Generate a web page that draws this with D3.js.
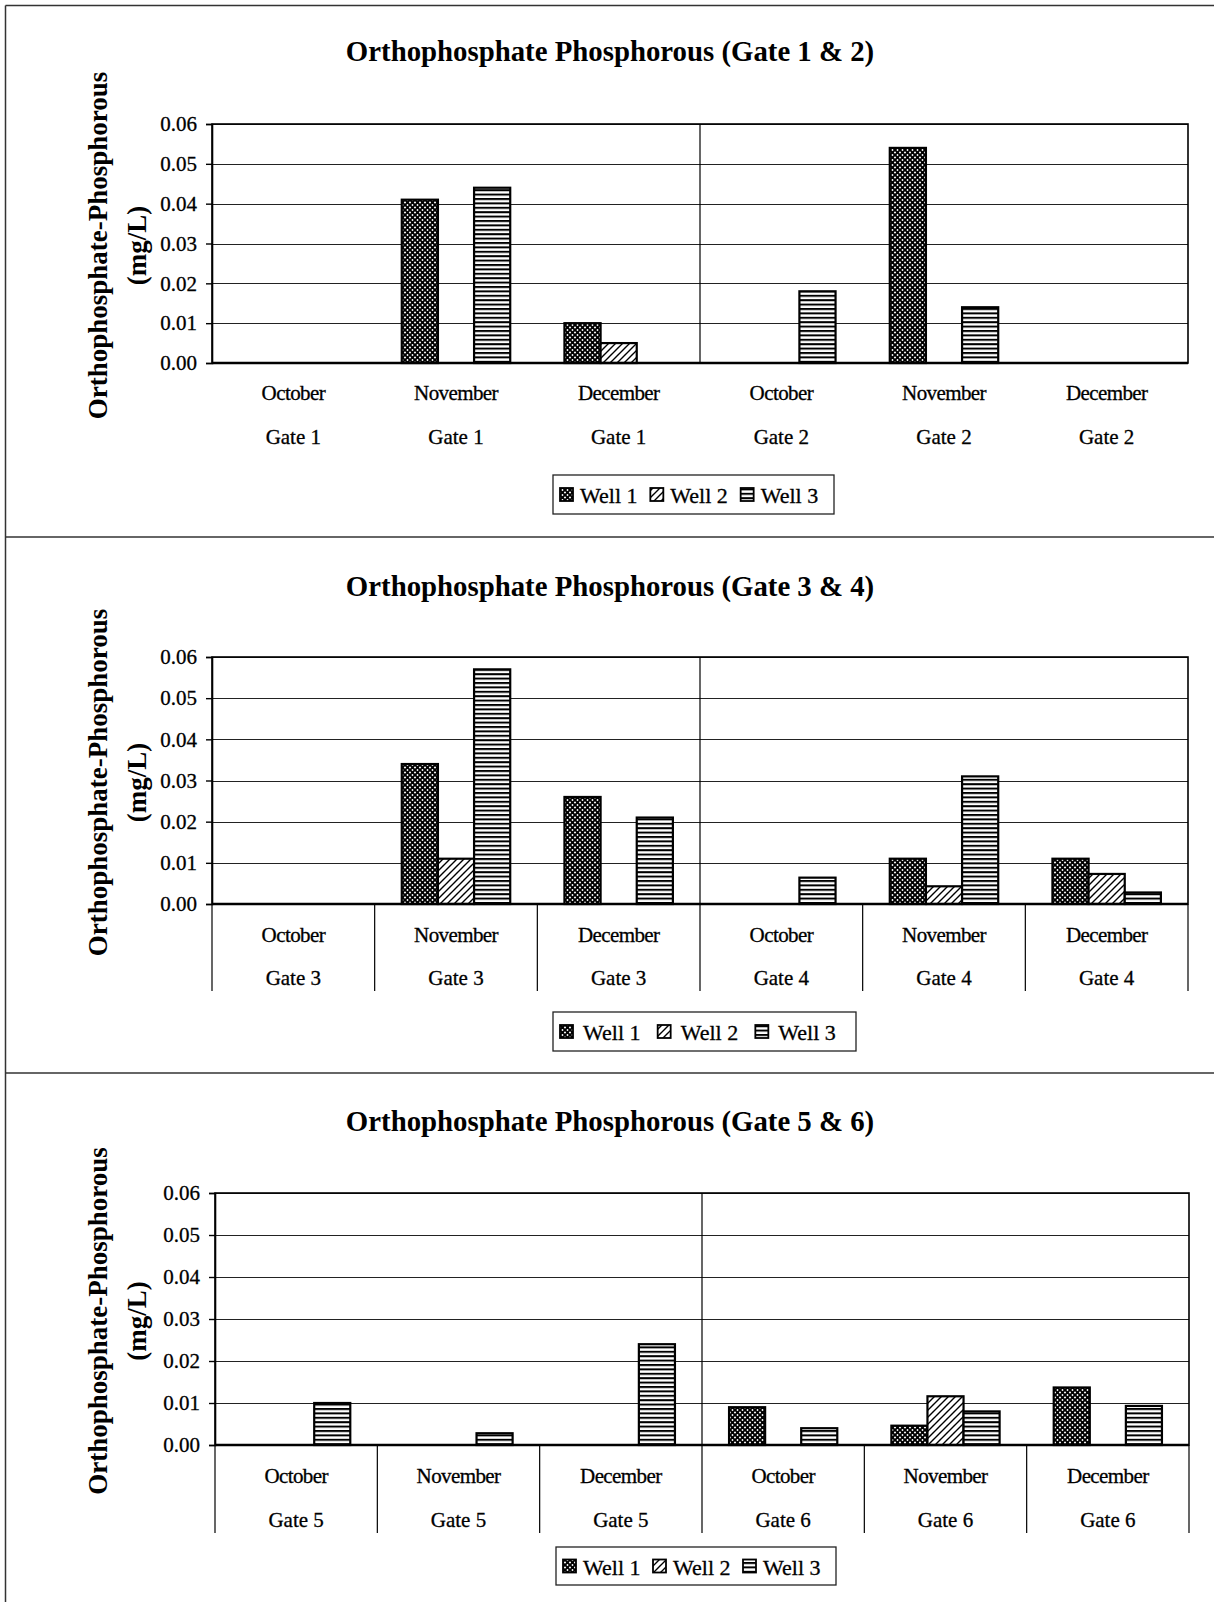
<!DOCTYPE html>
<html>
<head>
<meta charset="utf-8">
<script src="https://cdn.jsdelivr.net/npm/d3@7"></script>
<style>
  body { margin: 0; background: #fff; }
  svg { display: block; }
  text { font-family: "Liberation Serif", "Times New Roman", serif; fill: #000; }
  .reg { stroke: #000; stroke-width: 0.3; }
</style>
</head>
<body>
<svg id="chart" width="1214" height="1602"></svg>
<script>
// ---- data ----
const months = ["October", "November", "December"];
const wells = ["Well 1", "Well 2", "Well 3"];
const yTicks = [0, 0.01, 0.02, 0.03, 0.04, 0.05, 0.06];

const titles = [
  "Orthophosphate Phosphorous (Gate 1 & 2)",
  "Orthophosphate Phosphorous (Gate 3 & 4)",
  "Orthophosphate Phosphorous (Gate 5 & 6)"
];
const gates12 = ["Gate 1", "Gate 1", "Gate 1", "Gate 2", "Gate 2", "Gate 2"];
const gates34 = ["Gate 3", "Gate 3", "Gate 3", "Gate 4", "Gate 4", "Gate 4"];
const gates56 = ["Gate 5", "Gate 5", "Gate 5", "Gate 6", "Gate 6", "Gate 6"];

// mg/L, one value per month/gate column
const g12Well1 = [0, 0.041, 0.010, 0, 0.054, 0];
const g12Well2 = [0, 0, 0.005, 0, 0, 0];
const g12Well3 = [0, 0.044, 0, 0.018, 0.014, 0];

const g34Well1 = [0, 0.034, 0.026, 0, 0.011, 0.011];
const g34Well2 = [0, 0.011, 0, 0, 0.0043, 0.0073];
const g34Well3 = [0, 0.057, 0.021, 0.0064, 0.031, 0.0028];

const g56Well1 = [0, 0, 0, 0.009, 0.0046, 0.0137];
const g56Well2 = [0, 0, 0, 0, 0.0116, 0];
const g56Well3 = [0.010, 0.0028, 0.024, 0.004, 0.008, 0.0093];

const yLabel1 = "Orthophosphate-Phosphorous";
const yLabel2 = "(mg/L)";

// ---- layout of the three stacked charts ----
const panels = [
  { title: titles[0], gates: gates12, series: [g12Well1, g12Well2, g12Well3],
    left: 212, right: 1188, top: 124, bottom: 363, titleY: 51,
    monthY: 393, gateY: 437, tickEnd: null,
    legend: { x: 553, y: 475, w: 281, h: 39, gap: 20 } },
  { title: titles[1], gates: gates34, series: [g34Well1, g34Well2, g34Well3],
    left: 212, right: 1188, top: 657, bottom: 904, titleY: 586,
    monthY: 935, gateY: 978, tickEnd: 991,
    legend: { x: 553, y: 1012, w: 303, h: 39, gap: 23 } },
  { title: titles[2], gates: gates56, series: [g56Well1, g56Well2, g56Well3],
    left: 215, right: 1189, top: 1193, bottom: 1445, titleY: 1121,
    monthY: 1476, gateY: 1520, tickEnd: 1533,
    legend: { x: 556, y: 1547, w: 280, h: 38, gap: 20 } }
];

const svg = d3.select("#chart");
svg.append("rect").attr("width", 1214).attr("height", 1602).attr("fill", "#fff");

// ---- fill patterns for the three wells ----
const defs = svg.append("defs");
const p1 = defs.append("pattern").attr("id", "pat-w1")
  .attr("patternUnits", "userSpaceOnUse").attr("width", 5).attr("height", 5);
p1.append("rect").attr("width", 5).attr("height", 5).attr("fill", "#fff");
p1.append("path").attr("d", "M-1,-1L6,6M-1,6L6,-1")
  .attr("stroke", "#000").attr("stroke-width", 1.9);

const p2 = defs.append("pattern").attr("id", "pat-w2")
  .attr("patternUnits", "userSpaceOnUse").attr("width", 7).attr("height", 7);
p2.append("rect").attr("width", 7).attr("height", 7).attr("fill", "#fff");
p2.append("path").attr("d", "M-1,8L8,-1M-1,1L1,-1M6,8L8,6")
  .attr("stroke", "#000").attr("stroke-width", 1.4);

const p3 = defs.append("pattern").attr("id", "pat-w3")
  .attr("patternUnits", "userSpaceOnUse").attr("width", 4).attr("height", 4.4);
p3.append("rect").attr("width", 4).attr("height", 4.4).attr("fill", "#fff");
p3.append("rect").attr("y", 0).attr("width", 4).attr("height", 2).attr("fill", "#000");

const fills = ["url(#pat-w1)", "url(#pat-w2)", "url(#pat-w3)"];

// ---- page frame and separators ----
const frame = svg.append("g").attr("stroke", "#333").attr("stroke-width", 1.5).attr("fill", "none");
frame.append("line").attr("x1", 5.5).attr("x2", 5.5).attr("y1", 5.5).attr("y2", 1602);
frame.append("line").attr("x1", 5.5).attr("x2", 1214).attr("y1", 5.5).attr("y2", 5.5);
frame.append("line").attr("x1", 5.5).attr("x2", 1214).attr("y1", 537).attr("y2", 537);
frame.append("line").attr("x1", 5.5).attr("x2", 1214).attr("y1", 1073).attr("y2", 1073);

panels.forEach(p => {
  const g = svg.append("g");
  const cols = d3.range(6);

  const x = d3.scaleBand().domain(cols).range([p.left, p.right]).paddingInner(0).paddingOuter(0);
  const bw = x.bandwidth() / 4.5;            // 150% gap between groups
  const xw = d3.scaleBand().domain(wells).range([0, 3 * bw]);
  const y = d3.scaleLinear().domain([0, 0.06]).range([p.bottom, p.top]);

  // title
  g.append("text").attr("x", 610).attr("y", p.titleY)
    .attr("text-anchor", "middle").attr("dominant-baseline", "central")
    .attr("font-size", 28.8).attr("font-weight", "bold").text(p.title);

  // y axis title (two lines, rotated)
  const cy = (p.top + p.bottom) / 2 + 2;
  g.append("text").attr("transform", `translate(98,${cy}) rotate(-90)`)
    .attr("text-anchor", "middle").attr("dominant-baseline", "central")
    .attr("font-size", 27).attr("font-weight", "bold").text(yLabel1);
  g.append("text").attr("transform", `translate(137,${cy}) rotate(-90)`)
    .attr("text-anchor", "middle").attr("dominant-baseline", "central")
    .attr("font-size", 27).attr("font-weight", "bold").text(yLabel2);

  // horizontal gridlines
  g.append("g").selectAll("line").data(yTicks).join("line")
    .attr("x1", p.left).attr("x2", p.right)
    .attr("y1", d => Math.round(y(d)) + 0.5).attr("y2", d => Math.round(y(d)) + 0.5)
    .attr("stroke", "#222").attr("stroke-width", 1.2);

  // y axis with outward ticks
  const yAxis = g.append("g").attr("transform", `translate(${p.left},0)`)
    .call(d3.axisLeft(y).tickValues(yTicks).tickFormat(d3.format(".2f")).tickSize(6).tickPadding(9));
  yAxis.select(".domain").attr("stroke", "#000").attr("stroke-width", 1.6);
  yAxis.selectAll(".tick line").attr("stroke", "#000").attr("stroke-width", 1.4);
  yAxis.selectAll(".tick text").attr("class", "reg").attr("font-size", 21)
    .attr("font-family", "Liberation Serif, serif").attr("fill", "#000");

  // divider between the two gates
  const mid = x(3);
  g.append("line").attr("x1", mid).attr("x2", mid).attr("y1", p.top).attr("y2", p.bottom)
    .attr("stroke", "#000").attr("stroke-width", 1.2);

  // bars
  wells.forEach((w, wi) => {
    const rows = cols.map(c => ({ c, v: p.series[wi][c] })).filter(d => d.v > 0);
    g.append("g").selectAll("rect").data(rows).join("rect")
      .attr("x", d => x(d.c) + (x.bandwidth() - 3 * bw) / 2 + xw(w))
      .attr("width", xw.bandwidth())
      .attr("y", d => y(d.v))
      .attr("height", d => y(0) - y(d.v))
      .attr("fill", fills[wi])
      .attr("stroke", "#000").attr("stroke-width", 2.2);
  });

  // plot border and baseline
  g.append("rect").attr("x", p.left).attr("y", p.top)
    .attr("width", p.right - p.left).attr("height", p.bottom - p.top)
    .attr("fill", "none").attr("stroke", "#000").attr("stroke-width", 1.6);
  g.append("line").attr("x1", p.left).attr("x2", p.right).attr("y1", y(0)).attr("y2", y(0))
    .attr("stroke", "#000").attr("stroke-width", 2.4);

  // category tick lines below the axis
  if (p.tickEnd) {
    g.append("g").selectAll("line").data(d3.range(7)).join("line")
      .attr("x1", i => i < 6 ? x(i) : p.right).attr("x2", i => i < 6 ? x(i) : p.right)
      .attr("y1", p.bottom).attr("y2", p.tickEnd)
      .attr("stroke", "#000").attr("stroke-width", 1.2);
  }

  // category labels
  const labs = g.append("g").attr("text-anchor", "middle").attr("font-size", 21);
  labs.selectAll("text.m").data(cols).join("text").attr("class", "m reg")
    .attr("x", c => x(c) + x.bandwidth() / 2).attr("y", p.monthY)
    .attr("dominant-baseline", "central").attr("letter-spacing", -0.6)
    .text(c => months[c % 3]);
  labs.selectAll("text.gt").data(cols).join("text").attr("class", "gt reg")
    .attr("x", c => x(c) + x.bandwidth() / 2).attr("y", p.gateY)
    .attr("dominant-baseline", "central")
    .text(c => p.gates[c]);

  // legend
  const L = p.legend;
  const lg = g.append("g");
  lg.append("rect").attr("x", L.x).attr("y", L.y).attr("width", L.w).attr("height", L.h)
    .attr("fill", "#fff").attr("stroke", "#222").attr("stroke-width", 1.3);
  const step = (L.w - 10) / 3;
  wells.forEach((w, wi) => {
    const sx = L.x + 7 + wi * step;
    const sy = L.y + L.h / 2;
    lg.append("rect").attr("x", sx).attr("y", sy - 6.5).attr("width", 13).attr("height", 13)
      .attr("fill", fills[wi]).attr("stroke", "#000").attr("stroke-width", 1.8);
    lg.append("text").attr("class", "reg").attr("x", sx + L.gap).attr("y", sy + 1)
      .attr("dominant-baseline", "central").attr("font-size", 22).text(w);
  });
});
</script>
</body>
</html>
